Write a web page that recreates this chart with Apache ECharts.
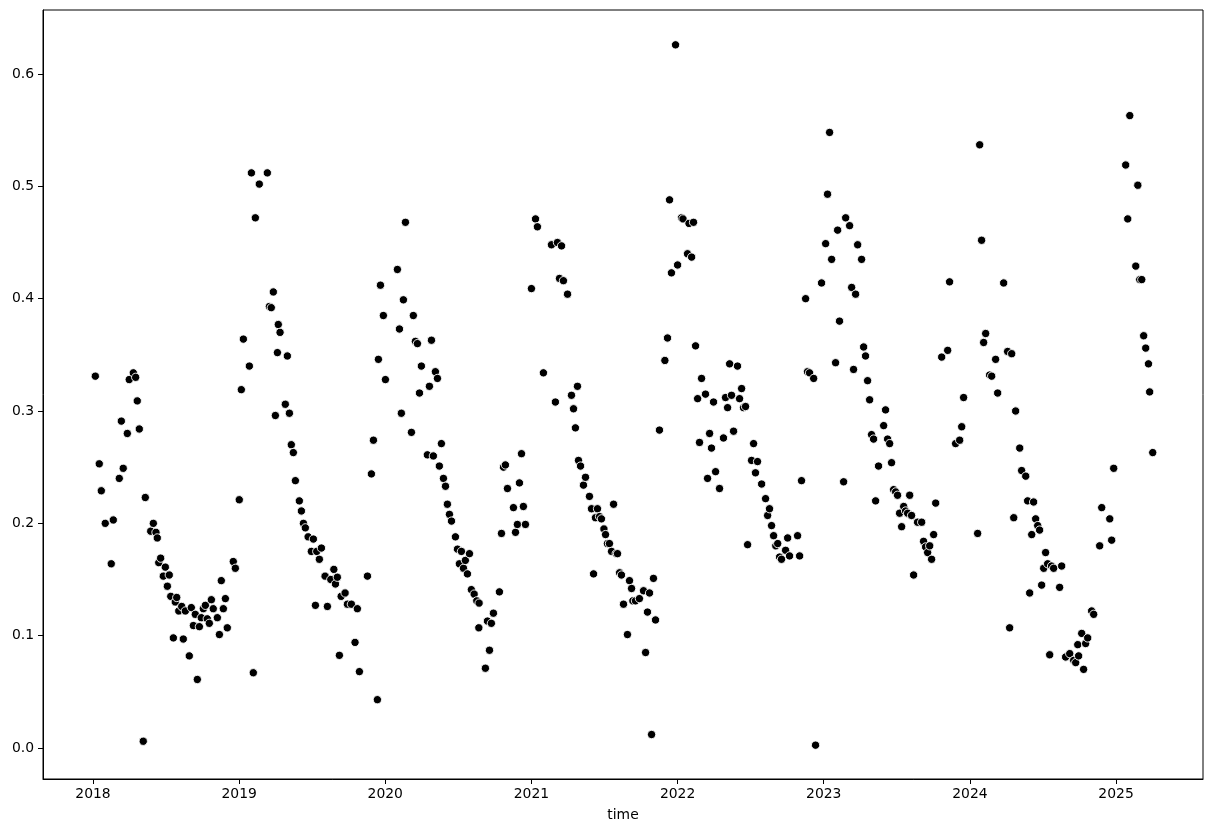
<!DOCTYPE html>
<html><head><meta charset="utf-8">
<script src="https://cdn.jsdelivr.net/npm/echarts@6/dist/echarts.min.js"></script>
<style>html,body{margin:0;padding:0;background:#fff}#c{width:1214px;height:833px}</style>
</head><body><div id="c"></div><script>
// x tick labels (years) and y tick labels
const yearTicks = [2018, 2019, 2020, 2021, 2022, 2023, 2024, 2025];
const yTicks = [0.0, 0.1, 0.2, 0.3, 0.4, 0.5, 0.6];

// observation times (decimal years) and values, per year
const times2018 = [2018.016,2018.043,2018.057,2018.084,2018.125,2018.139,2018.180,2018.194,2018.207,2018.235,2018.248,2018.276,2018.292,2018.303,2018.317,2018.344,2018.358,2018.395,2018.413,2018.431,2018.440,2018.450,2018.463,2018.481,2018.495,2018.509,2018.522,2018.532,2018.550,2018.563,2018.573,2018.587,2018.607,2018.618,2018.632,2018.659,2018.673,2018.687,2018.700,2018.714,2018.728,2018.741,2018.755,2018.769,2018.782,2018.796,2018.810,2018.823,2018.851,2018.865,2018.878,2018.892,2018.906,2018.919,2018.960,2018.974];
const values2018 = [0.331,0.253,0.229,0.200,0.164,0.203,0.240,0.291,0.249,0.280,0.328,0.334,0.330,0.309,0.284,0.006,0.223,0.193,0.200,0.192,0.187,0.165,0.169,0.153,0.161,0.144,0.154,0.135,0.098,0.130,0.134,0.122,0.126,0.097,0.122,0.082,0.125,0.109,0.119,0.061,0.108,0.116,0.124,0.127,0.115,0.111,0.132,0.124,0.116,0.101,0.149,0.124,0.133,0.107,0.166,0.160];

const times2019 = [2019.001,2019.015,2019.029,2019.070,2019.084,2019.097,2019.111,2019.138,2019.193,2019.207,2019.220,2019.234,2019.248,2019.262,2019.268,2019.280,2019.316,2019.330,2019.344,2019.357,2019.371,2019.385,2019.412,2019.426,2019.440,2019.453,2019.472,2019.494,2019.508,2019.522,2019.531,2019.549,2019.563,2019.588,2019.604,2019.627,2019.648,2019.659,2019.672,2019.686,2019.698,2019.725,2019.741,2019.768,2019.793,2019.809,2019.823,2019.878,2019.905,2019.919,2019.946,2019.953,2019.967,2019.987];
const values2019 = [0.221,0.319,0.364,0.340,0.512,0.067,0.472,0.502,0.512,0.393,0.392,0.406,0.296,0.352,0.377,0.370,0.306,0.349,0.298,0.270,0.263,0.238,0.220,0.211,0.200,0.196,0.188,0.175,0.186,0.127,0.175,0.168,0.178,0.153,0.126,0.150,0.159,0.146,0.152,0.0825,0.135,0.138,0.128,0.128,0.094,0.124,0.068,0.153,0.244,0.274,0.043,0.346,0.412,0.385];

const times2020 = [2020.001,2020.083,2020.097,2020.110,2020.124,2020.138,2020.179,2020.192,2020.206,2020.220,2020.234,2020.247,2020.288,2020.302,2020.316,2020.329,2020.343,2020.357,2020.370,2020.384,2020.398,2020.412,2020.425,2020.439,2020.453,2020.480,2020.494,2020.507,2020.521,2020.535,2020.548,2020.562,2020.576,2020.589,2020.608,2020.626,2020.640,2020.642,2020.685,2020.699,2020.713,2020.726,2020.740,2020.781,2020.795,2020.809,2020.822,2020.836,2020.877,2020.891,2020.904,2020.918,2020.932,2020.945,2020.959];
const values2020 = [0.328,0.426,0.373,0.298,0.399,0.468,0.281,0.385,0.362,0.360,0.316,0.340,0.261,0.322,0.363,0.260,0.335,0.329,0.251,0.271,0.240,0.233,0.217,0.208,0.202,0.188,0.177,0.164,0.175,0.160,0.167,0.155,0.173,0.141,0.137,0.131,0.107,0.129,0.071,0.113,0.087,0.111,0.120,0.139,0.191,0.250,0.252,0.231,0.214,0.192,0.199,0.236,0.262,0.215,0.199];

const times2021 = [2021.000,2021.028,2021.041,2021.082,2021.137,2021.164,2021.178,2021.192,2021.206,2021.219,2021.247,2021.274,2021.288,2021.301,2021.315,2021.322,2021.336,2021.356,2021.370,2021.397,2021.411,2021.425,2021.438,2021.452,2021.466,2021.479,2021.496,2021.507,2021.520,2021.534,2021.548,2021.562,2021.580,2021.589,2021.603,2021.616,2021.630,2021.657,2021.671,2021.685,2021.694,2021.712,2021.739,2021.767,2021.781,2021.794,2021.808,2021.822,2021.835,2021.849,2021.876,2021.913,2021.931,2021.945,2021.958,2021.986];
const values2021 = [0.409,0.471,0.464,0.334,0.448,0.308,0.450,0.418,0.447,0.416,0.404,0.314,0.302,0.285,0.322,0.256,0.251,0.234,0.241,0.224,0.213,0.155,0.205,0.213,0.206,0.204,0.195,0.190,0.182,0.182,0.175,0.217,0.173,0.173,0.156,0.154,0.128,0.101,0.149,0.142,0.131,0.131,0.133,0.140,0.085,0.121,0.138,0.012,0.151,0.114,0.283,0.345,0.365,0.488,0.423,0.626];

const times2022 = [2022.000,2022.027,2022.037,2022.068,2022.078,2022.096,2022.109,2022.123,2022.137,2022.150,2022.164,2022.191,2022.205,2022.219,2022.232,2022.246,2022.260,2022.287,2022.314,2022.328,2022.342,2022.356,2022.369,2022.383,2022.410,2022.424,2022.438,2022.451,2022.465,2022.479,2022.506,2022.520,2022.533,2022.547,2022.575,2022.602,2022.616,2022.629,2022.643,2022.657,2022.672,2022.685,2022.698,2022.711,2022.739,2022.753,2022.766,2022.821,2022.835,2022.848,2022.876,2022.889,2022.903,2022.931,2022.944,2022.985];
const values2022 = [0.430,0.472,0.471,0.440,0.467,0.437,0.468,0.358,0.311,0.272,0.329,0.315,0.240,0.280,0.267,0.308,0.246,0.231,0.276,0.312,0.303,0.342,0.314,0.282,0.340,0.311,0.320,0.303,0.304,0.181,0.256,0.271,0.245,0.255,0.235,0.222,0.207,0.213,0.198,0.189,0.180,0.182,0.170,0.168,0.176,0.187,0.171,0.189,0.171,0.238,0.400,0.335,0.334,0.329,0.0025,0.414];

const times2023 = [2023.013,2023.026,2023.040,2023.054,2023.081,2023.095,2023.108,2023.136,2023.150,2023.177,2023.191,2023.204,2023.218,2023.232,2023.259,2023.273,2023.286,2023.300,2023.314,2023.327,2023.341,2023.355,2023.375,2023.410,2023.423,2023.437,2023.451,2023.464,2023.478,2023.492,2023.505,2023.519,2023.533,2023.547,2023.560,2023.574,2023.588,2023.601,2023.615,2023.642,2023.670,2023.683,2023.697,2023.711,2023.725,2023.738,2023.752,2023.766,2023.807,2023.848,2023.861,2023.902,2023.930,2023.944,2023.957];
const values2023 = [0.449,0.493,0.548,0.435,0.343,0.461,0.380,0.237,0.472,0.465,0.410,0.337,0.404,0.448,0.435,0.357,0.349,0.327,0.310,0.279,0.275,0.220,0.251,0.287,0.301,0.275,0.271,0.254,0.230,0.228,0.225,0.209,0.197,0.215,0.211,0.209,0.225,0.207,0.154,0.201,0.201,0.184,0.179,0.174,0.180,0.168,0.190,0.218,0.348,0.354,0.415,0.271,0.274,0.286,0.312];

const times2024 = [2024.053,2024.067,2024.080,2024.094,2024.108,2024.135,2024.149,2024.176,2024.190,2024.231,2024.258,2024.272,2024.286,2024.300,2024.313,2024.341,2024.354,2024.382,2024.395,2024.409,2024.423,2024.436,2024.450,2024.464,2024.477,2024.491,2024.505,2024.518,2024.532,2024.546,2024.559,2024.573,2024.614,2024.628,2024.655,2024.683,2024.710,2024.724,2024.738,2024.744,2024.765,2024.778,2024.792,2024.806,2024.833,2024.847,2024.888,2024.902,2024.957,2024.970,2024.984];
const values2024 = [0.191,0.537,0.452,0.361,0.369,0.332,0.331,0.346,0.316,0.414,0.353,0.107,0.351,0.205,0.300,0.267,0.247,0.242,0.220,0.138,0.190,0.219,0.204,0.198,0.194,0.145,0.160,0.174,0.164,0.083,0.162,0.160,0.143,0.162,0.081,0.084,0.078,0.076,0.092,0.082,0.102,0.070,0.093,0.098,0.122,0.119,0.180,0.214,0.204,0.185,0.249];

const times2025 = [2025.066,2025.080,2025.094,2025.135,2025.149,2025.162,2025.176,2025.189,2025.203,2025.222,2025.230,2025.251];
const values2025 = [0.519,0.471,0.563,0.429,0.501,0.417,0.417,0.367,0.356,0.342,0.317,0.263];

const allTimes = [].concat(times2018, times2019, times2020, times2021, times2022, times2023, times2024, times2025);
const allValues = [].concat(values2018, values2019, values2020, values2021, values2022, values2023, values2024, values2025);
const points = allTimes.map((t, i) => [t, allValues[i]]);

const FONT = 'DejaVu Sans';
const chart = echarts.init(document.getElementById('c'), null, {renderer: 'canvas'});
chart.setOption({
  animation: false,
  backgroundColor: '#fff',
  grid: {left: 43, top: 10, width: 1160, height: 769, show: true, borderColor: '#000', borderWidth: 1, backgroundColor: 'transparent'},
  xAxis: {
    type: 'value', min: 2017.658, max: 2025.595,
    name: 'time', nameLocation: 'middle', nameGap: 29,
    nameTextStyle: {color: '#000', fontFamily: FONT, fontSize: 13.9},
    axisLine: {show: true, onZero: false, lineStyle: {color: '#000', width: 1}},
    axisTick: {show: true, length: 5, customValues: yearTicks, lineStyle: {color: '#000'}},
    axisLabel: {customValues: yearTicks, margin: 8, color: '#000', fontFamily: FONT, fontSize: 13.9, formatter: v => String(Math.round(v))},
    splitLine: {show: false}
  },
  yAxis: {
    type: 'value', min: -0.0276, max: 0.657,
    axisLine: {show: true, onZero: false, lineStyle: {color: '#000', width: 1}},
    axisTick: {show: true, length: 5, customValues: yTicks, lineStyle: {color: '#000'}},
    axisLabel: {customValues: yTicks, margin: 9, color: '#000', fontFamily: FONT, fontSize: 13.9, formatter: v => v.toFixed(1)},
    splitLine: {show: false}
  },
  series: [{
    type: 'scatter',
    data: points,
    symbol: 'circle',
    symbolSize: 8.3,
    itemStyle: {color: '#000', borderColor: '#fff', borderWidth: 0.9, opacity: 1}
  }]
});
</script></body></html>
